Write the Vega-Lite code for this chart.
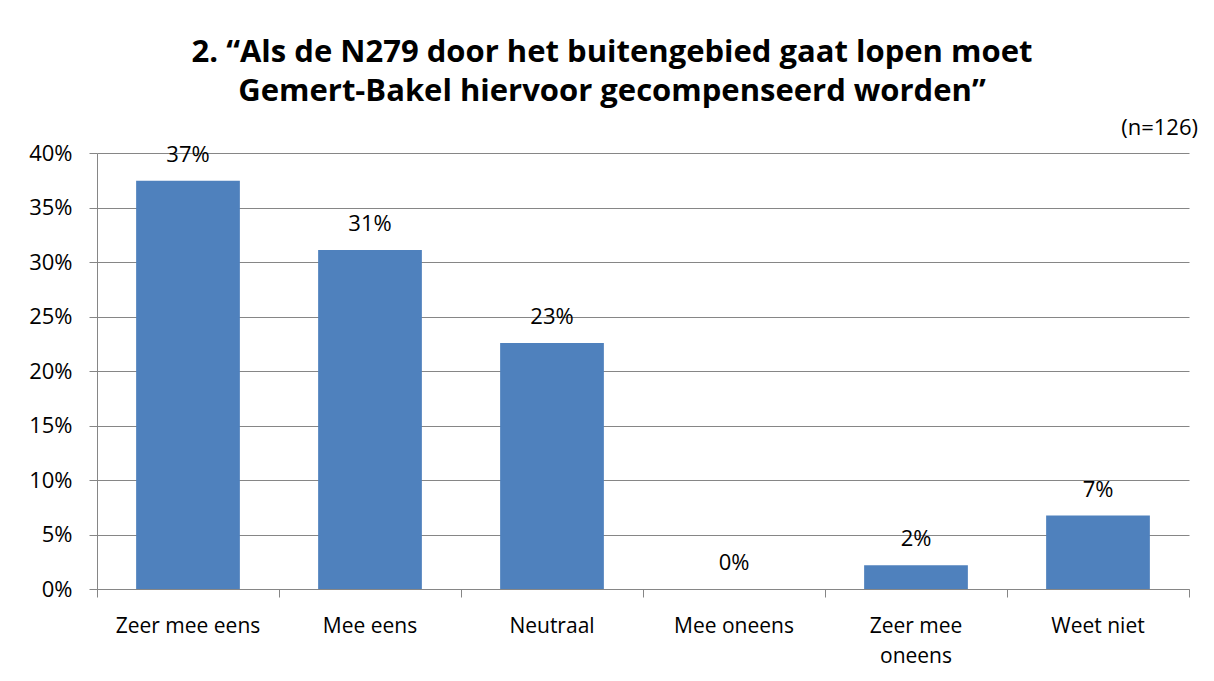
{
  "$schema": "https://vega.github.io/schema/vega-lite/v6.json",
  "autosize": "none",
  "width": 1092,
  "height": 436,
  "padding": {"left": 97, "top": 153, "right": 25, "bottom": 92},
  "background": "white",
  "config": {"view": {"stroke": null}, "font": "Open Sans"},
  "title": {
    "text": ["2. “Als de N279 door het buitengebied gaat lopen moet", "Gemert-Bakel hiervoor gecompenseerd worden”"],
    "font": "Open Sans",
    "fontSize": 31,
    "fontWeight": "bold",
    "color": "black",
    "anchor": "middle",
    "frame": "group",
    "baseline": "bottom",
    "lineHeight": 39,
    "offset": -22,
    "dx": -31
  },
  "data": {
    "values": [
      {"cat": "Zeer mee eens", "pct": 0.3746},
      {"cat": "Mee eens", "pct": 0.311},
      {"cat": "Neutraal", "pct": 0.2256},
      {"cat": "Mee oneens", "pct": 0},
      {"cat": "Zeer mee oneens", "pct": 0.0218},
      {"cat": "Weet niet", "pct": 0.0674}
    ]
  },
  "layer": [
    {
      "mark": {"type": "bar", "color": "#4F81BD", "width": {"band": 0.57}},
      "encoding": {
        "x": {
          "field": "cat", "type": "nominal", "sort": null,
          "scale": {"paddingInner": 0, "paddingOuter": 0},
          "axis": {
            "title": null, "labelAngle": 0, "bandPosition": 1, "tickExtra": true,
            "tickSize": 8, "tickColor": "#868686", "domainColor": "#868686",
            "labelPadding": 18, "labelFontSize": 21, "labelFont": "Open Sans", "labelColor": "black",
            "labelBaseline": "top", "labelLineHeight": 30,
            "labelExpr": "datum.label == 'Zeer mee oneens' ? ['Zeer mee', 'oneens'] : datum.label"
          }
        },
        "y": {
          "field": "pct", "type": "quantitative",
          "scale": {"domain": [0, 0.4]},
          "axis": {
            "title": null, "format": ".0%", "values": [0, 0.05, 0.1, 0.15, 0.2, 0.25, 0.3, 0.35, 0.4],
            "tickSize": 8, "tickColor": "#868686", "domainColor": "#868686",
            "gridColor": "#868686", "gridOpacity": 1,
            "labelPadding": 17, "labelFontSize": 22, "labelFont": "Open Sans", "labelColor": "black"
          }
        }
      }
    },
    {
      "mark": {"type": "text", "baseline": "alphabetic", "dy": -19, "fontSize": 22, "font": "Open Sans", "color": "black"},
      "encoding": {
        "x": {"field": "cat", "type": "nominal", "sort": null},
        "y": {"field": "pct", "type": "quantitative"},
        "text": {"field": "pct", "type": "quantitative", "format": ".0%"}
      }
    },
    {
      "data": {"values": [{"note": "(n=126)"}]},
      "mark": {"type": "text", "align": "right", "baseline": "alphabetic", "dx": 9, "dy": -18, "fontSize": 22, "font": "Open Sans", "color": "black"},
      "encoding": {
        "x": {"datum": "Weet niet", "type": "nominal", "bandPosition": 1},
        "y": {"datum": 0.4, "type": "quantitative"},
        "text": {"field": "note", "type": "nominal"}
      }
    }
  ]
}
